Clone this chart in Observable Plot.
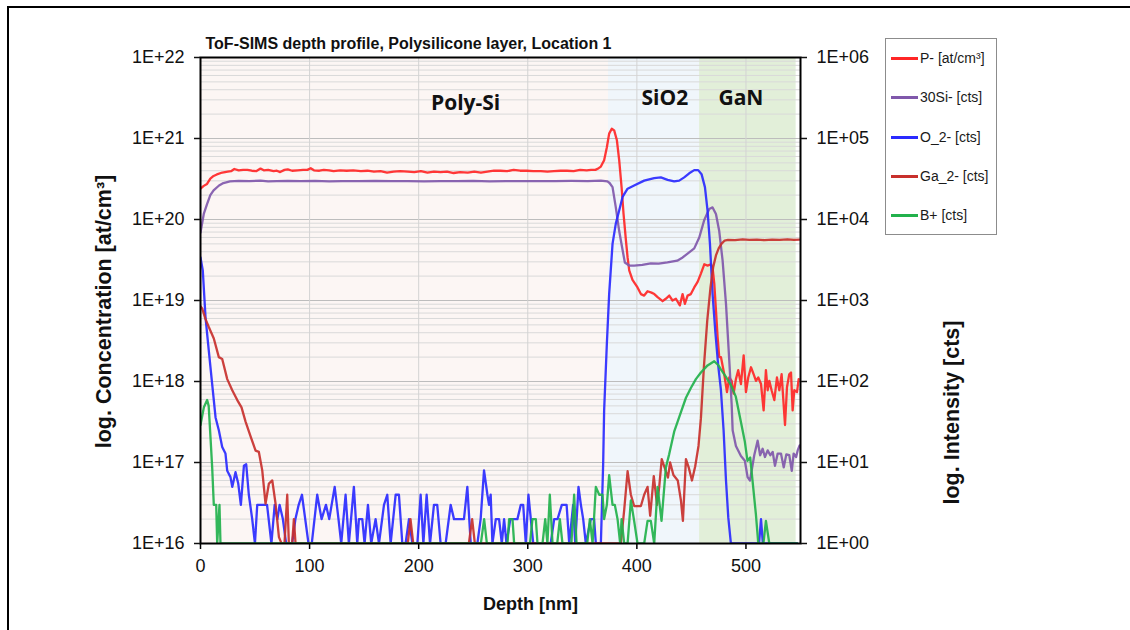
<!DOCTYPE html>
<html><head><meta charset="utf-8">
<script src="https://cdn.jsdelivr.net/npm/d3@7"></script>
<script src="https://cdn.jsdelivr.net/npm/@observablehq/plot@0.6"></script>
<style>
html,body{margin:0;padding:0;background:#fff;}
#wrap{position:relative;width:1130px;height:630px;overflow:hidden;font-family:"Liberation Sans",Arial,sans-serif;}
#border{position:absolute;left:7px;top:6px;right:-20px;bottom:-20px;border-left:2px solid #000;border-top:2px solid #000;pointer-events:none;}
#legend{position:absolute;left:885px;top:38px;width:112px;height:197px;border:1px solid #8c8c8c;background:#fff;box-sizing:border-box;}
.item{position:absolute;left:5px;height:20px;display:flex;align-items:center;font-size:14px;color:#1a1a1a;white-space:nowrap;}
.sw{width:27px;height:3px;margin-right:2px;}
svg{position:absolute;left:0;top:0;}
</style></head><body><div id="wrap"></div>
<script>
// ---------- data ----------
const depthTicks = [0, 100, 200, 300, 400, 500];
const concTicks = [1e16, 1e17, 1e18, 1e19, 1e20, 1e21, 1e22];
const concTickLabels = ["1E+16", "1E+17", "1E+18", "1E+19", "1E+20", "1E+21", "1E+22"];
const intensityTickLabels = ["1E+00", "1E+01", "1E+02", "1E+03", "1E+04", "1E+05", "1E+06"];
const minorMantissas = [2, 3, 4, 5, 6, 7, 8, 9];

const regionNames = ["Poly-Si", "SiO2", "GaN"];
const regionStart = [0, 374, 457.5];
const regionEnd = [374, 457.5, 546];
const regionLabelDepth = [243, 425.7, 495.4];

const seriesNames = ["P- [at/cm³]", "30Si- [cts]", "O_2- [cts]", "Ga_2- [cts]", "B+ [cts]"];
const seriesIsCounts = [false, true, true, true, true];

// P- concentration [at/cm3] : [depth nm, value]
const pMinus = [[0,2.4e20],[3,2.6e20],[6,2.75e20],[9,3.2e20],[12,3.45e20],[15,3.6e20],[20,3.8e20],[25,3.9e20],[28,3.95e20],[31,4.2e20],[35,4.05e20],[39,4.1e20],[43,4.1e20],[47,4.0e20],[51,3.95e20],[55,4.25e20],[58,4.05e20],[62,4.1e20],[67,3.95e20],[70,4.0e20],[73,3.85e20],[77,4.1e20],[80,4.15e20],[84,4.0e20],[89,4.05e20],[94,4.1e20],[98,4.1e20],[101,4.3e20],[104,4.05e20],[109,4.0e20],[113,4.1e20],[118,4.05e20],[122,3.95e20],[128,4.05e20],[134,4.0e20],[140,4.05e20],[147,3.95e20],[153,4.0e20],[159,3.9e20],[165,3.95e20],[171,3.8e20],[177,3.9e20],[183,3.95e20],[190,3.9e20],[196,3.85e20],[202,3.95e20],[208,3.8e20],[214,3.9e20],[220,3.85e20],[226,3.9e20],[232,3.75e20],[238,3.85e20],[245,3.8e20],[251,3.9e20],[257,3.8e20],[263,3.9e20],[269,4.0e20],[275,4.0e20],[281,3.95e20],[287,4.1e20],[293,4.0e20],[299,4.0e20],[305,3.95e20],[312,3.95e20],[318,3.9e20],[324,3.95e20],[330,4.0e20],[336,4.0e20],[342,3.95e20],[348,4.1e20],[354,4.05e20],[358,4.1e20],[362,4.1e20],[365,4.3e20],[367,4.5e20],[370,5.4e20],[372.5,7.8e20],[374.6,1.15e21],[377,1.32e21],[379.2,1.26e21],[381.7,9.5e20],[383.8,5.4e20],[386,2.5e20],[387.8,1.17e20],[390,5.5e19],[391.5,3.4e19],[393,2.35e19],[396,1.8e19],[400.6,1.45e19],[403.7,1.2e19],[406.7,1.15e19],[409.8,1.3e19],[413.4,1.25e19],[416,1.2e19],[419,1.1e19],[423.6,9.8e18],[426.5,1.05e19],[429.7,1.15e19],[432.7,1.0e19],[435.8,1.05e19],[439.4,8.7e18],[441.9,1.2e19],[444,9.1e18],[446.5,1.15e19],[449.5,1.2e19],[452.6,1.45e19],[455.7,1.7e19],[458.7,2.15e19],[461.8,2.8e19],[464.8,2.7e19],[467.9,2.8e19],[469.4,2.55e19],[471,1.6e19],[472.5,7.6e18],[474,3.55e18],[475.5,2.0e18],[477.1,2.0e18],[480.1,1.23e18],[482.6,7.4e17],[484.7,1.12e18],[486.9,1.02e18],[488.7,7.1e17],[490.8,1.07e18],[492.9,1.38e18],[495.4,9.3e17],[497.9,2.1e18],[500,7.4e17],[502.1,1.12e18],[504.6,1.5e18],[507,1.23e18],[509.2,1.02e18],[511.3,1.12e18],[513.8,9.3e17],[516.2,4.4e17],[518.3,1.38e18],[519.9,7.8e17],[521.4,1.02e18],[523.5,7.8e17],[526,5.9e17],[528.4,1.12e18],[530.6,7.8e17],[532.7,1.23e18],[535.8,2.9e17],[537.6,8.5e17],[539.7,1.23e18],[541.3,1.29e18],[542.8,4.4e17],[544.3,7.8e17],[546.8,7.4e17],[548.3,1.07e18]];

// 30Si- counts
const si30 = [[0,6900],[3,11700],[6,15500],[9,20000],[12,22900],[17,26300],[21,28200],[27,29500],[35,30000],[45,29800],[55,30200],[62,29600],[70,29800],[80,30000],[92,29700],[105,29900],[118,29600],[130,29800],[145,29700],[160,29900],[175,29700],[190,29800],[205,29600],[220,29800],[235,29700],[250,29900],[265,29600],[280,29800],[295,29700],[310,29800],[325,29700],[340,29900],[355,29800],[367,30200],[373,29500],[375,28200],[377.7,25100],[380.7,14100],[383.8,7200],[386.9,4200],[389,2950],[393,2700],[397.5,2700],[405,2750],[412.8,2880],[420,2850],[428,2950],[437,3100],[442,3400],[446.5,3800],[452.6,4400],[457.2,6000],[461.7,9800],[466.3,13500],[469.4,14100],[472.5,11700],[475.5,7200],[478.6,3100],[481.7,910],[484.7,182],[486.9,52],[487.8,25],[490.8,16],[495.4,12],[499,10.5],[501.5,6.6],[503.7,6],[505.2,7.9],[507.6,12.3],[510.7,18.6],[513,12.3],[515.3,14.8],[517.4,11.7],[519.9,14.1],[522.3,12.3],[524.5,13.5],[526.6,9.1],[529.1,12.9],[532.1,12.9],[534.6,8.7],[537,12.6],[539.7,12.3],[542,7.9],[543.7,12.9],[546,11.7],[547.4,14.1],[549.2,16.2]];

// O_2- counts (1 = axis floor)
const o2 = [[0,3400],[2.1,2350],[4.6,620],[7.6,240],[10.7,93],[13.8,36],[16.8,25],[19.9,15.5],[22.9,12.9],[24.5,7.9],[27.5,6.6],[29.1,5],[32.1,7.6],[34.6,5.5],[37,3],[39.8,9.1],[41.9,9.5],[44.3,4],[47.4,2],[49.9,1],[52,3],[58,3],[61,3],[65,1],[68,3],[70.5,2],[72.5,3],[75.5,2],[78.5,1],[84,1],[87,2],[90,3],[93,4],[96,2],[99,1],[102,1],[107,4],[111,2],[115,3],[118,2],[123,5],[126.5,2],[129,1],[133,4],[136,1],[140.6,5],[143.7,1],[145.2,2],[148.3,2],[150.4,1],[153.5,3],[156.5,1],[160.5,2],[163.6,1],[168.2,3],[171.2,4],[174.3,1],[178.9,4],[181.9,4],[185,1],[188,1],[191.1,2],[194.2,1],[198.8,1],[201.8,4],[204.3,1],[207.3,4],[210.4,1],[214,3],[217,3],[220.1,1],[224.7,1],[229.3,3],[232.4,2],[235.4,2],[238.5,2],[241.5,2],[244.6,5],[247.7,1],[253.8,1],[256.8,2],[259.9,8],[263,4],[264.5,3],[266,4],[267.6,1],[270.7,2],[273.7,2],[276.2,1],[278.3,2],[280.5,1],[284,2],[287.5,2],[290.5,2],[293.6,3],[295.8,3],[298.2,1],[300.6,4],[302.8,2],[305,1],[309,1],[315,1],[321,1],[324.2,2],[327.3,2],[331.2,3],[333.4,3],[335.6,3],[338,1],[341.6,3],[343.5,1],[346.5,5],[348.7,3],[350.8,2],[353.2,1],[357.8,2],[360.8,2],[362.4,1],[367,1],[369.1,9.5],[370,44],[372.5,295],[374.6,1200],[377.7,5000],[380.7,8900],[383.8,12900],[386.9,19000],[391.5,24000],[397.5,26300],[406.7,30200],[415.9,32400],[422,33100],[428.2,30900],[434.2,29500],[438.8,30200],[443.4,33100],[448,37200],[452.6,40700],[456.2,40700],[459.3,36300],[462.4,25100],[464.8,12900],[467,5000],[469.4,1200],[472,400],[474.5,160],[477,80],[479.5,25],[481.7,6],[483.8,2.1],[486.2,1],[512,1],[513.8,2],[515.5,1],[547,1]];

// Ga_2- counts
const ga2 = [[0,850],[1.5,800],[4.6,590],[7.6,470],[12.2,340],[16.8,200],[19.9,190],[24.5,107],[29.1,78],[33.7,59],[37.6,48],[41.3,32],[45.9,21],[50.5,14],[53.5,13.5],[56.6,8],[59.6,3.1],[62.7,5.5],[65.8,6],[68.8,3.1],[71.9,1.2],[74.3,1],[77,1],[79.5,4],[81,1],[84,1],[85.6,2],[87.1,1],[190,1],[192.5,2],[195,1],[246,1],[249,2],[251.5,1],[385.3,1],[388.4,2.6],[391.5,7.8],[394.5,4],[397.5,2.9],[400.6,2.9],[403.7,2.9],[406.7,4],[409.8,5],[412.2,2.2],[415.5,6.8],[418.5,3],[420.5,5],[422.8,11],[425.4,8.7],[428.5,6.5],[430.5,10],[433.5,7],[437.5,6],[440.4,3.4],[442.2,1.9],[445,11],[447.5,8.7],[450.5,6],[453.5,9],[456.5,16],[458.7,35],[461.5,155],[464.5,560],[467.5,1450],[470,2600],[472.5,3600],[475,4400],[477.5,5000],[480.5,5500],[483.5,5600],[490,5550],[497,5700],[503,5600],[510,5650],[517,5550],[524,5650],[531,5600],[538,5700],[544,5600],[549,5650]];

// B+ counts
const bPlus = [[0,29],[3.1,48],[6.1,59],[7.5,50],[9.2,20],[10.7,8.7],[12.2,3],[14.4,3],[15.3,1],[17.4,3],[18.3,1],[257,1],[260,2],[262.5,1],[281.4,1],[282.9,2],[286,2],[287.5,1],[302,1],[304.3,2],[307.4,2],[308.9,1],[313.5,1],[316,2],[318,1],[320.2,4],[322.7,1],[327,1],[329.4,2],[331.8,1],[340,1],[342.5,4],[344.7,1],[354.5,1],[356.9,2],[359.4,1],[362.4,5],[365.5,4],[368.5,4],[370,2],[372.5,3],[374.6,7],[377.7,3],[379.8,3],[382.3,2],[384.7,1],[386,2],[388.4,1],[391.5,1],[394.5,3.4],[397.5,1.9],[400.6,1],[406.7,1],[409.8,1.9],[412.8,1.9],[415.9,1],[419,5],[422.6,1.9],[426.6,8.7],[429.6,12.6],[434.2,24],[440.4,42],[445,63],[449.5,83],[454.1,107],[458.7,129],[464.8,158],[470.9,178],[474.5,160],[477,141],[481.5,115],[486.1,91],[490.7,65],[495.3,32],[499,18],[501.4,10.5],[503.9,11.5],[506,6],[509.1,2.3],[511.3,1],[516,1],[518.3,1.9],[521.4,1],[547,1]];

const seriesData = [pMinus, si30, o2, ga2, bPlus];

// ---------- styles ----------
const seriesColors = ["#ff2626", "#8058ab", "#2a2aff", "#c8302c", "#22b14c"];
const regionFills = ["#fcf6f4", "#f0f6fb", "#e2efd9"];
const COUNT_TO_AXIS = 1e16; // 1E+00 cts sits on 1E+16 at/cm3
const font = "'Liberation Sans', Arial, sans-serif";

const regions = regionNames.map((name, i) => ({name, x1: regionStart[i], x2: regionEnd[i], fill: regionFills[i], lx: regionLabelDepth[i]}));
const rows = seriesData.flatMap((arr, i) => arr.map(([d, v]) => ({
  series: seriesNames[i], depth: d, y: seriesIsCounts[i] ? v * COUNT_TO_AXIS : v
})));
const majorGrid = concTicks.slice(1, -1);
const minorGrid = concTicks.slice(0, -1).flatMap(t => minorMantissas.map(m => t * m));

const chart = Plot.plot({
  width: 1130, height: 630,
  marginLeft: 200, marginRight: 330, marginTop: 57, marginBottom: 87,
  style: {fontFamily: font, background: "transparent", color: "#111"},
  x: {domain: [0, 550]},
  y: {type: "log", domain: [1e16, 1e22]},
  color: {domain: seriesNames, range: seriesColors},
  marks: [
    Plot.rect(regions, {x1: "x1", x2: "x2", fill: "fill"}),
    Plot.ruleY(minorGrid, {stroke: "#d9d9d9", strokeWidth: 1}),
    Plot.ruleY(majorGrid, {stroke: "#bdbdbd", strokeWidth: 1}),
    Plot.ruleX(depthTicks.slice(1), {stroke: "#d3d3d3", strokeWidth: 1}),
    Plot.line(rows, {x: "depth", y: "y", z: "series", stroke: "series", strokeWidth: 2.3, strokeOpacity: 0.92, clip: true, curve: "linear"}),
    Plot.frame({stroke: "#000", strokeWidth: 2}),
    Plot.axisX({ticks: depthTicks, tickSize: 6, tickPadding: 10, fontSize: 18, label: null, stroke: "#000", strokeWidth: 1.5}),
    Plot.axisY({anchor: "left", ticks: concTicks, tickFormat: d => concTickLabels[concTicks.indexOf(d)], tickSize: 6, tickPadding: 10, fontSize: 18, label: null, strokeWidth: 1.5}),
    Plot.axisY({anchor: "right", ticks: concTicks, tickFormat: d => intensityTickLabels[concTicks.indexOf(d)], tickSize: 6, tickPadding: 10, fontSize: 18, label: null, strokeWidth: 1.5}),
    Plot.text(["ToF-SIMS depth profile, Polysilicone layer, Location 1"], {text: d => d, frameAnchor: "top-left", textAnchor: "start", lineAnchor: "middle", dx: 5, dy: -14, fontSize: 16, fontWeight: "bold", fill: "#111"}),
    Plot.text(["log. Concentration [at/cm³]"], {text: d => d, frameAnchor: "left", textAnchor: "middle", lineAnchor: "middle", rotate: -90, dx: -96, dy: 11, fontSize: 21.5, fontWeight: "bold", fill: "#111"}),
    Plot.text(["log. Intensity [cts]"], {text: d => d, frameAnchor: "right", textAnchor: "middle", lineAnchor: "middle", rotate: -90, dx: 152, dy: 112, fontSize: 21.5, fontWeight: "bold", fill: "#111"}),
    Plot.text(["Depth [nm]"], {text: d => d, frameAnchor: "bottom", textAnchor: "middle", lineAnchor: "middle", dx: 30, dy: 61, fontSize: 18, fontWeight: "bold", fill: "#111"}),
    Plot.text(regions.filter(r => r.name === "Poly-Si"), {x: "lx", text: "name", frameAnchor: "top", lineAnchor: "middle", dy: 46, fontSize: 21, fontWeight: "bold", fontFamily: "'Open Sans', sans-serif", fill: "#111"}),
    Plot.text(regions.filter(r => r.name !== "Poly-Si"), {x: "lx", text: "name", frameAnchor: "top", lineAnchor: "middle", dy: 41, fontSize: 21, fontWeight: "bold", fontFamily: "'Open Sans', sans-serif", fill: "#111"})
  ]
});

const wrap = document.getElementById("wrap");
wrap.appendChild(chart);
const border = document.createElement("div");
border.id = "border";
wrap.appendChild(border);

// legend
const legend = document.createElement("div");
legend.id = "legend";
const rowCenters = [20, 59, 99, 138, 177];
seriesNames.forEach((name, i) => {
  const item = document.createElement("div");
  item.className = "item";
  item.style.top = (rowCenters[i] - 11) + "px";
  const sw = document.createElement("div");
  sw.className = "sw";
  sw.style.background = seriesColors[i];
  item.appendChild(sw);
  item.appendChild(document.createTextNode(name));
  legend.appendChild(item);
});
wrap.appendChild(legend);
</script>
</body></html>
